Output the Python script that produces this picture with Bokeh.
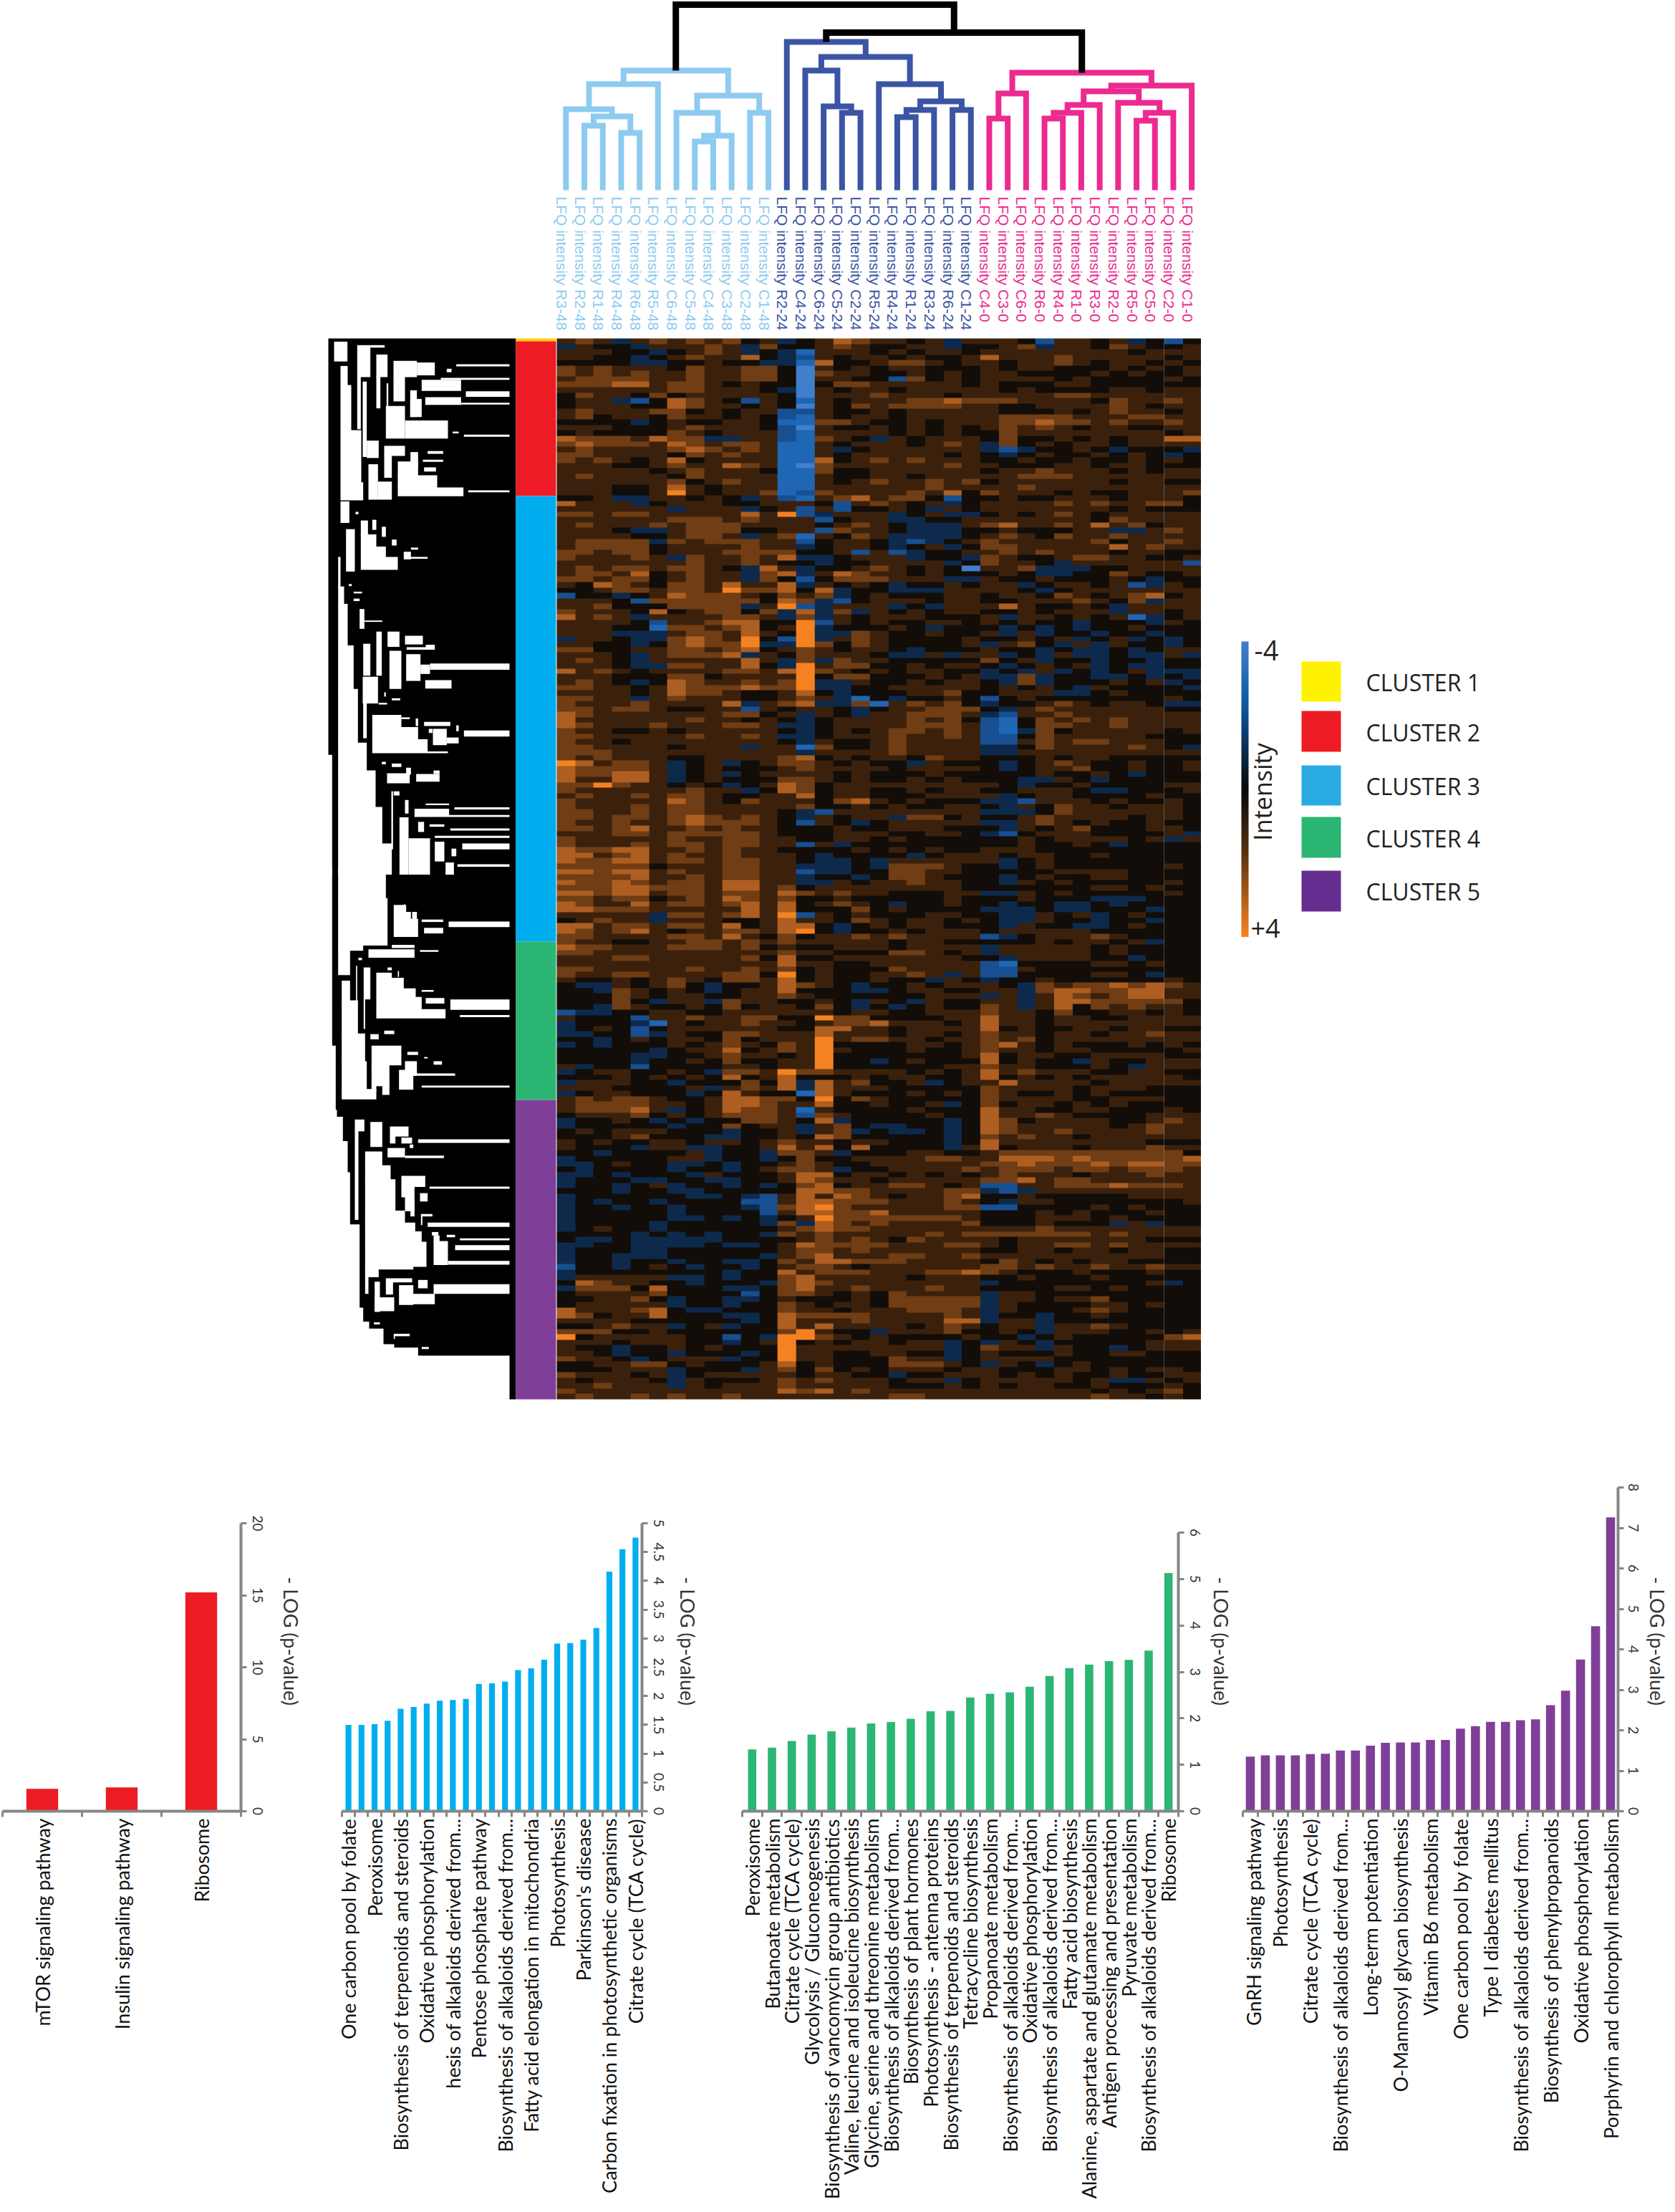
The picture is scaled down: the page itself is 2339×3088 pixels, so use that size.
import math
import numpy as np
from bokeh.embed import file_html
from bokeh.resources import INLINE
from bokeh.core.properties import value
from bokeh.layouts import column, row
from bokeh.models import Range1d, LinearAxis, FixedTicker, LinearColorMapper
from bokeh.plotting import figure

# ---------- samples and column dendrogram ----------
SAMPLES = ["R3-48","R2-48","R1-48","R4-48","R6-48","R5-48","C6-48","C5-48","C4-48","C3-48","C2-48","C1-48",
           "R2-24","C4-24","C6-24","C5-24","C2-24","R5-24","R4-24","R1-24","R3-24","R6-24","C1-24",
           "C4-0","C3-0","C6-0","R6-0","R4-0","R1-0","R3-0","R2-0","R5-0","C5-0","C2-0","C1-0"]
LIGHT, DARK, PINK, BLACK = "#8DCBF0", "#3B54A4", "#EC2A90", "#000000"
SAMPLE_COLORS = [LIGHT]*12 + [DARK]*11 + [PINK]*12
# merges: left child, right child, page height of the bracket, colour (ids above 34 are earlier merges)
MERGES = [(1,2,175,LIGHT),(3,4,185,LIGHT),(35,36,162,LIGHT),(0,37,152,LIGHT),(38,5,117,LIGHT),
          (7,8,197,LIGHT),(40,9,189,LIGHT),(6,41,157,LIGHT),(10,11,157,LIGHT),(42,43,133,LIGHT),(39,44,98,LIGHT),
          (15,16,157,DARK),(14,46,148,DARK),(13,47,98,DARK),(18,19,163,DARK),(49,20,153,DARK),(21,22,153,DARK),
          (50,51,141,DARK),(17,52,117,DARK),(48,53,79,DARK),(12,54,58,DARK),
          (23,24,165,PINK),(56,25,130,PINK),(26,27,165,PINK),(58,28,157,PINK),(59,29,146,PINK),(31,32,168,PINK),
          (61,33,157,PINK),(30,62,143,PINK),(60,63,127,PINK),(64,34,119,PINK),(57,65,101,PINK),
          (55,66,45,BLACK),(45,67,6,BLACK)]
LEAF_BASE = 265

# ---------- row dendrogram, white gaps (crop units) ----------
GAPS_UPPER = [(0,40,1225,1568),(48,104,35,90),(75,105,105,160),(75,120,160,290),(75,162,290,440),(75,170,440,490),(75,112,495,555),
 (145,200,45,135),(145,160,135,285),(200,260,45,50),(168,185,150,365),(225,272,72,135),(225,242,135,225),(268,275,155,220),(265,345,220,312),
 (345,525,262,312),(297,395,90,135),(297,345,135,205),(395,470,95,130),(367,395,175,250),(367,415,200,250),(415,580,145,175),(430,580,195,215),
 (600,783,178,192),(560,783,100,104),(495,783,139,143),(580,783,211,214),(440,510,270,274),(545,570,294,297),(592,783,303,307),(520,540,113,121),
 (185,235,320,368),(192,232,388,488),(232,290,438,488),(258,345,335,362),(258,290,362,425),(315,400,380,420),(315,480,420,455),(315,590,455,478),
 (368,400,353,395),(440,505,350,356),(420,505,375,379),(425,475,397,407),(610,783,463,467),
 (98,135,575,695),(160,190,550,590),(160,225,590,625),(160,265,625,655),(160,315,655,690),(208,225,548,575),(248,265,568,595),(290,310,605,620),
 (340,370,640,660),(345,440,655,658),(370,400,628,632),(138,150,525,530),(110,122,733,737),(130,165,755,758),(130,155,775,780),
 (65,75,655,740),(65,90,740,790),(65,105,790,910),(65,130,910,1035),(65,148,1035,1190),(65,185,1190,1270),(65,222,1270,1375),(65,250,1375,1480),(65,290,1480,1568),
 (155,175,805,860),(175,250,838,840),(225,248,870,995),(170,200,905,995),(168,232,1000,1075),(272,322,870,912),(280,330,925,1033),
 (345,420,882,905),(352,470,915,920),(350,410,935,1010),(410,450,965,990),(450,783,962,978),(432,470,908,914),(430,540,1010,1032),
 (258,265,1045,1055),(290,325,1062,1066),(235,270,1075,1078),(208,330,1110,1145),(208,400,1145,1180),(208,440,1180,1215),(208,525,1215,1218),
 (330,365,1117,1120),(390,400,1120,1140),(425,535,1130,1140),(462,520,1150,1195),(520,570,1175,1190),(592,783,1155,1170),(560,570,1140,1155),(445,460,1150,1160),
 (170,185,1035,1175),(248,265,1245,1250),(290,330,1250,1258),(350,370,1262,1280),(270,365,1278,1305),(392,490,1280,1300),(465,490,1270,1278),
 (288,295,1330,1495),(298,322,1330,1340),(345,360,1355,1392),(385,530,1380,1400),(432,530,1365,1368),(552,783,1376,1380),(385,783,1398,1402),
 (400,425,1418,1445),(448,510,1425,1430),(535,783,1437,1441),(470,783,1458,1462),(322,360,1405,1568),(360,450,1465,1568),(470,510,1475,1530),
 (515,550,1535,1568),(585,783,1480,1495),(540,560,1495,1515),(565,783,1540,1545)]
GAPS_LOWER = [(0,40,0,515),(0,55,515,700),(0,60,700,720),(0,85,720,790),(0,105,790,880),(0,115,880,1030),(0,155,1030,1270),(0,170,1270,1310),(0,195,1310,1330),
 (0,255,1330,1375),(0,300,1375,1385),(0,400,1385,1408),(0,783,1408,1568),
 (65,265,0,90),(65,272,90,225),(65,170,225,240),(65,115,240,310),(80,115,328,385),(80,148,385,480),(80,178,480,560),(80,185,560,640),(80,225,640,668),
 (298,350,110,130),(298,370,130,150),(298,400,150,200),(375,395,130,150),(415,505,152,157),(425,505,176,190),(528,783,158,172),(340,345,108,118),
 (290,385,225,232),(408,485,240,243),(192,385,238,260),(150,165,262,267),(140,145,285,470),(172,200,290,380),(172,178,380,465),(225,290,305,320),
 (225,340,320,350),(225,390,350,375),(225,415,375,410),(225,515,410,435),(272,290,290,296),(315,320,300,315),(415,465,355,358),(432,510,378,392),
 (535,783,382,410),(575,783,427,431),(205,330,515,570),(205,280,570,630),(205,225,630,645),(320,380,585,640),(345,395,560,600),(380,555,595,600),
 (250,280,625,655),(415,783,630,634),(355,400,533,540),(425,440,548,550),(465,500,560,568),(258,300,472,480),(200,235,482,495),
 (135,175,728,760),(135,150,760,1015),(200,250,735,805),(178,250,820,860),(178,285,860,900),(178,305,900,990),(178,345,990,1025),(178,388,1025,1050),
 (178,415,1050,1080),(178,435,1080,1150),(178,380,1150,1158),(178,235,1158,1180),(178,192,1180,1228),(282,360,748,775),(282,305,775,795),(272,345,810,835),
 (345,508,832,837),(330,375,780,795),(400,783,785,793),(365,380,800,808),(330,430,890,920),(330,385,920,950),(345,385,950,990),(448,783,921,925),
 (408,440,940,962),(368,385,960,1005),(412,460,1000,1005),(412,418,1005,1030),(440,783,1025,1035),(458,485,1052,1060),(520,555,1060,1065),
 (575,783,1070,1074),(555,783,1090,1102),(465,525,1078,1145),(525,783,1135,1144),(465,490,1062,1078),(218,240,1195,1280),(218,300,1240,1278),
 (265,375,1185,1195),(265,295,1195,1230),(320,380,1205,1260),(400,440,1190,1212),(465,783,1202,1228),(325,470,1230,1258),(215,240,1312,1316),
 (298,365,1345,1350),(298,303,1350,1358),(415,445,1383,1387)]

# ---------- heat map: one digit per cell, 0 = -4 (blue) ... 4 = 0 (black) ... 8 = +4 (orange) ----------
HEAT = """
565356565645 345765545355 554255453424
354435556536 445654455345 456355465445
555443456534 315554545545 555555554555
554434565574 325455454453 755565555545
444433445443 317445665454 545565455454
656555465566 405454554444 545544454545
656565565566 406554454544 554444545445
566665565566 405544264544 555545444454
666775665454 404665555544 544455444444
555555665554 305455455554 545444455455
465546455555 405556555455 555566555555
455324765425 415455566765 665555465565
455544765545 405465666654 544555565455
565556645455 225445455555 544454565545
564554655454 215455455556 566665556655
444434544554 116654454555 566766565565
555444565554 205445454544 565654554455
454444654555 215555454544 465555555545
766657663355 216543545554 464454545577
676665765665 115455545655 364545545555
565555676565 115345555555 323445434443
665555465655 115455555455 434544545434
656545745555 117456565554 445445445454
555445655765 106555555654 544455455444
555554565554 116445555555 455655545455
565555465555 115445545556 556665555555
555555645655 115456556565 455555545544
555445754555 115555556555 556555555555
555445854556 126555565745 655545445556
445335545435 215675664245 454455545554
755534555445 554256545345 555565655664
555555355534 525244543545 555555545444
665665555575 823555345333 454565455555
555555666565 552455334452 555555465555
565556566655 554565433354 675565756455
555433566644 552655433344 454445533565
555544566535 615465333345 565465565555
566663656665 524554323453 655555645565
566664555565 534554345343 665555575655
665664555666 644525234453 565655545544
655565365565 733455534434 654456655445
555555565565 443445555343 655435555552
565665665437 534456545403 556333445555
566574565536 735765545443 454334465445
665664565536 424666555335 544544454344
547654665755 735454344545 553455452354
445665665866 747344333553 554345555555
244345766654 656345444555 455465456745
555426666664 763245554555 445556546355
556444666635 823555343555 575445435555
655547456646 373635454553 445455535545
756535555665 363545554445 535545451345
555542556774 482545445544 545443444354
555441665674 583444543445 434343445444
555333566575 483365445444 535344344344
355433676584 283565444454 445453453434
554434676683 386465444454 356435354434
664455665674 565455434444 544343343455
555435666735 465554335355 534353343353
565435555575 363655444445 645344344344
555433665574 385664454555 434545343344
756545555665 786545455445 343534345333
555444664555 584664445455 336344334343
565434765565 683354454555 436344454534
665545766676 683344555554 454543544443
555545766544 574344455645 455533454444
665535655544 565314344545 245444444454
655565555735 673361565645 344565455433
665665445525 455434556665 435655555544
765555555664 535435566655 325565555555
755555565545 434555565645 214656565555
765556555665 334555566654 214665565555
655445455555 434545665654 213645555545
665555565565 334555655654 224655555444
655455555555 435445655554 225656655544
665555455535 516445655554 334655556543
666555555555 535555655555 335555555555
656555445555 674545546554 444545544444
875665345345 665454435445 434565445445
766665345444 565555455555 434556445445
766775345345 555454445445 444544543444
755775345444 665454454544 443354344444
668655454345 764555555554 543445444455
655555565534 764554454555 445554334445
565565665445 574554445554 534554444544
655555765465 554675454445 332555454454
655565665555 564454544555 435465545554
665565665555 432555555555 333465555554
665665676565 435455366454 445655554554
655655676665 425434555554 335654544544
665675565655 444544555444 435456444554
555665666665 444555445544 324555444453
655555655665 544554544444 445455554535
655565665665 525344444445 445445434444
766775565655 444454545445 555444444444
775675655655 543444434555 545544544444
766775665665 543343555554 534544444444
666664555665 533343666544 434544444454
776775655665 523344665544 444455554444
666675565665 534434665444 434544554444
766765665775 533545565544 435454444454
666776665775 645555555544 444444554544
776775665665 765655444555 335454444454
665664565765 644544444544 445444333444
765575665675 745654344544 434433434444
776665555575 744464544444 333433444344
555553665675 825454445545 433545345444
456553555445 755465455455 433544344344
775665665745 774345455445 435443345444
765675455665 784344545555 455555444444
665555665754 645565655554 234555654444
655445566565 655555455445 444545545344
766555666564 544555455554 355555454444
665555555555 655444665455 355555454444
555665555564 744555555544 435555443444
555555555555 755445555555 214444554544
665555565565 645444655555 225444444444
655665555664 845445565355 224444554344
544545654665 745445443545 344544444454
433545643445 765434454555 543656676765
443654543455 744433455445 553677667755
444654554455 654444445555 353576567755
444643553655 445435435445 553577666664
443654454645 546434345445 653574656554
233445544555 555455445555 655464455454
544425565566 448664444555 755455445555
344431545565 545667555455 755455555555
345424555555 447755455554 745445545544
334423544665 557555455455 655455455655
443454554645 558566554554 656455555555
343444545654 658444455454 675454445454
444443455745 658544454455 655455444445
444433445655 458444444454 745544555544
444434454644 558443454444 745443544555
534424444554 558444444555 655444543555
345544543665 866555545454 756555445544
444545454745 744454554455 745454555554
355544344464 737564453455 575555455555
555444453565 737555444445 655554555444
345544434754 417544454544 654454544444
565665445776 648465444444 655554455544
566665545776 557445445344 645545454444
566675345766 515444454444 755445544454
455564545666 526544445444 755654444555
344543434466 547344444344 764555544565
344444344645 535643344344 765555545655
454555444344 535634334344 765565555655
444564443344 547644444344 656554555555
545445545545 655455444344 755555555444
544435533445 757474444354 745554555655
443444453443 665344455444 566666666664
344444553443 464455556655 577767666667
334544334344 565445555555 667666767766
434444344345 665344555565 566656656665
334344435444 577455454544 565554555655
344433443344 576554555554 667566555555
344345344343 467455665454 225566676665
444344334444 477665555665 323555555555
344444433432 575765455677 445444445555
343443444422 577666555655 435544444445
344344344432 678655555666 224444545444
344444344442 577667555555 444545444544
344444334343 458666666655 444555454444
344443444443 637656555566 444544435344
345443444444 567665555555 555655555555
444434343443 656555556566 666666565555
433433333444 456565465555 545555555444
334433334334 576666555665 545566565555
344433444444 566565555556 445545545544
344333444443 567555665566 555555555544
344344344334 657766655556 465454554444
244345434434 566545555555 665655655655
344444444344 756665556675 654445444544
355555334344 675555545555 445444544444
476554434443 676555555555 344444444534
366647444334 675565556555 444455454444
455556444424 665454655556 355444444444
445564344334 544454666666 355455644444
455555344344 654554666666 354444554544
755567433444 655455566656 354445654444
764557444334 766665555656 344344544444
555544444434 755565555775 355344444444
445655345344 757555545655 455355654444
666445444444 685443555644 454355544545
845555544243 886545444454 443454444467
555455544345 845455455344 354344444555
544344545444 855555555344 655354434555
554344344434 855445544344 544454455444
655434555344 855444655344 555544444444
445566454445 745444666544 354345444444
444555344435 646454555454 544455454554
655545345555 545544344555 545454454455
545554354445 656555455345 555554533545
556555354555 655555444544 545544544454
655555555555 767565555555 555555454564
565565655655 555555665555 555555655454
""".strip().split("\n")
# groups: 12 columns of the 48 h samples, 11 of the 24 h samples plus a spare digit, 12 of the 0 h samples
HEAT = [r.split()[0] + r.split()[1][:11] + r.split()[2] for r in HEAT]
MATRIX = np.array([[int(c) - 4 for c in r] for r in HEAT], dtype=float)
HEAT_PALETTE = ["#3F7FCB", "#1F66B4", "#184F90", "#0D2A4D", "#120D08", "#3B210C", "#703D14", "#AE5E20", "#F58220"]

# ---------- legend ----------
CLUSTER_NAMES = ["CLUSTER 1", "CLUSTER 2", "CLUSTER 3", "CLUSTER 4", "CLUSTER 5"]
CLUSTER_COLORS = ["#FFF200", "#ED1C24", "#29ABE2", "#2CB673", "#662D91"]
BAND_COLORS = ["#FFD200", "#ED1C24", "#00AEEF", "#2CB673", "#7F3F98"]
BAND_EDGES = [472, 476, 692, 1314, 1535, 1953]
SQUARE_TOPS = [923, 992, 1068, 1140, 1215]
SQUARE_BOTTOMS = [979, 1049, 1124, 1197, 1272]
TEXT_CENTRES = [952, 1022, 1097, 1170, 1244]
BAR_STOPS = [(0.0, "#3F7FCB"), (0.2, "#0F5AA8"), (0.5, "#080808"), (0.72, "#5A3210"), (1.0, "#F58220")]

# ---------- bar charts ----------
L1 = ["mTOR signaling pathway", "Insulin signaling pathway", "Ribosome"]
V1 = [1.55, 1.65, 15.2]
L2 = {0:"One carbon pool by folate",2:"Peroxisome",4:"Biosynthesis of terpenoids and steroids",6:"Oxidative phosphorylation",
      8:"hesis of alkaloids derived from...",10:"Pentose phosphate pathway",12:"Biosynthesis of alkaloids derived from...",
      14:"Fatty acid elongation in mitochondria",16:"Photosynthesis",18:"Parkinson's disease",
      20:"Carbon fixation in photosynthetic organisms",22:"Citrate cycle (TCA cycle)"}
V2 = [1.5,1.5,1.51,1.57,1.78,1.81,1.87,1.92,1.93,1.95,2.21,2.22,2.25,2.45,2.48,2.63,2.91,2.92,2.98,3.18,4.16,4.55,4.75]
L3 = ["Peroxisome","Butanoate metabolism","Citrate cycle (TCA cycle)","Glycolysis / Gluconeogenesis",
      "Biosynthesis of vancomycin group antibiotics","Valine, leucine and isoleucine biosynthesis",
      "Glycine, serine and threonine metabolism","Biosynthesis of alkaloids derived from...","Biosynthesis of plant hormones",
      "Photosynthesis - antenna proteins","Biosynthesis of terpenoids and steroids","Tetracycline biosynthesis","Propanoate metabolism",
      "Biosynthesis of alkaloids derived from...","Oxidative phosphorylation","Biosynthesis of alkaloids derived from...",
      "Fatty acid biosynthesis","Alanine, aspartate and glutamate metabolism","Antigen processing and presentation",
      "Pyruvate metabolism","Biosynthesis of alkaloids derived from...","Ribosome"]
V3 = [1.33,1.37,1.51,1.65,1.72,1.80,1.89,1.92,1.99,2.15,2.16,2.45,2.53,2.56,2.68,2.91,3.08,3.16,3.23,3.26,3.46,5.13]
L4 = {0:"GnRH signaling pathway",2:"Photosynthesis",4:"Citrate cycle (TCA cycle)",6:"Biosynthesis of alkaloids derived from...",
      8:"Long-term potentiation",10:"O-Mannosyl glycan biosynthesis",12:"Vitamin B6 metabolism",14:"One carbon pool by folate",
      16:"Type I diabetes mellitus",18:"Biosynthesis of alkaloids derived from...",20:"Biosynthesis of phenylpropanoids",
      22:"Oxidative phosphorylation",24:"Porphyrin and chlorophyll metabolism"}
V4 = [1.35,1.38,1.38,1.38,1.41,1.42,1.5,1.5,1.62,1.69,1.7,1.7,1.76,1.76,2.04,2.1,2.21,2.21,2.25,2.27,2.62,2.98,3.75,4.57,7.26]
AXIS_TITLE = "-  LOG (p-value)"

# ---------- page geometry ----------
PAGE_W, TOP_END, PAGE_END = 2339, 2050, 3088
COL_W = 25.7
HEAT_L = 777
HEAT_T, HEAT_B = BAND_EDGES[0], BAND_EDGES[-1]
rows_n = len(HEAT)
row_h = (HEAT_B - HEAT_T) / rows_n

top = figure(width=PAGE_W, height=TOP_END, x_range=Range1d(0, PAGE_W), y_range=Range1d(TOP_END, 0),
             x_axis_location=None, y_axis_location=None, toolbar_location=None, output_backend="svg",
             min_border=0, outline_line_color=None, background_fill_color="white", border_fill_color="white")
top.grid.visible = False
top.extra_x_ranges["col"] = Range1d(-HEAT_L / COL_W, (PAGE_W - HEAT_L) / COL_W)
top.extra_y_ranges["row"] = Range1d((TOP_END - HEAT_T) / row_h, -HEAT_T / row_h)

# column dendrogram
pos = {i: i + 0.5 for i in range(len(SAMPLES))}
hgt = {i: LEAF_BASE for i in range(len(SAMPLES))}
xs, ys, cols, wid = [], [], [], []
for k, (a, b, h, c) in enumerate(MERGES):
    xs.append([pos[a], pos[a], pos[b], pos[b]])
    ys.append([hgt[a], h, h, hgt[b]])
    cols.append(c)
    wid.append(9 if c == BLACK else 8)
    nid = len(SAMPLES) + k
    pos[nid] = (pos[a] + pos[b]) / 2
    hgt[nid] = h
top.multi_line(xs, ys, line_color=cols, line_width=wid, x_range_name="col", line_join="miter", line_cap="butt")

# sample labels
top.text(x=[i + 0.5 for i in range(len(SAMPLES))], y=[274] * len(SAMPLES),
         text=["LFQ intensity " + s for s in SAMPLES], text_color=SAMPLE_COLORS, angle=-math.pi / 2,
         x_offset=-6, text_align="left", text_baseline="middle", text_font=value("Liberation Sans"),
         text_font_size="21px", x_range_name="col")

# row dendrogram
top.quad(left=[458], right=[720], top=[HEAT_T], bottom=[HEAT_B], fill_color="black", line_color=None)
gx0 = [450 + g[0] / 3 for g in GAPS_UPPER] + [450 + g[0] / 3 for g in GAPS_LOWER]
gx1 = [450 + g[1] / 3 for g in GAPS_UPPER] + [450 + g[1] / 3 for g in GAPS_LOWER]
gy0 = [460 + g[2] / 2.063 - 0.5 for g in GAPS_UPPER] + [1210 + g[2] / 2.063 - 0.5 for g in GAPS_LOWER]
gy1 = [460 + g[3] / 2.063 + 0.5 for g in GAPS_UPPER] + [1210 + g[3] / 2.063 + 0.5 for g in GAPS_LOWER]
top.quad(left=gx0, right=gx1, top=gy0, bottom=gy1, fill_color="white", line_color=None)

# cluster band
top.quad(left=720, right=776, top=BAND_EDGES[:-1], bottom=BAND_EDGES[1:], fill_color=BAND_COLORS, line_color=None)

# heat map
mapper = LinearColorMapper(palette=HEAT_PALETTE, low=-4.5, high=4.5)
top.image(image=[MATRIX], x=0, y=0, dw=len(SAMPLES), dh=rows_n, color_mapper=mapper,
          x_range_name="col", y_range_name="row")
top.segment(x0=[33], x1=[33], y0=[0], y1=[rows_n], line_color="#bbbbbb", line_alpha=0.35, line_width=1,
            x_range_name="col", y_range_name="row")

# colour bar
def lerp(t):
    for (t0, c0), (t1, c1) in zip(BAR_STOPS, BAR_STOPS[1:]):
        if t <= t1:
            f = (t - t0) / (t1 - t0)
            a = [int(c0[i:i + 2], 16) for i in (1, 3, 5)]
            b = [int(c1[i:i + 2], 16) for i in (1, 3, 5)]
            return "#%02x%02x%02x" % tuple(round(u + (v - u) * f) for u, v in zip(a, b))
    return BAR_STOPS[-1][1]
bar_top, bar_bottom, steps = 895, 1307, 103
step = (bar_bottom - bar_top) / steps
top.quad(left=1733, right=1743, top=[bar_top + i * step for i in range(steps)],
         bottom=[bar_top + (i + 1) * step + 0.5 for i in range(steps)],
         fill_color=[lerp(i / (steps - 1)) for i in range(steps)], line_color=None)
FONT = value("Open Sans")
top.text(x=[1751], y=[907], text=["-4"], text_font=FONT, text_font_size="38px", text_color="#231F20", text_baseline="middle")
top.text(x=[1746], y=[1295], text=["+4"], text_font=FONT, text_font_size="36px", text_color="#231F20", text_baseline="middle")
top.text(x=[1762], y=[1105], text=["Intensity"], angle=math.pi / 2, text_font=FONT, text_font_size="34px",
         text_color="#231F20", text_align="center", text_baseline="middle")

# legend
top.quad(left=1817, right=1872, top=SQUARE_TOPS, bottom=SQUARE_BOTTOMS, fill_color=CLUSTER_COLORS, line_color=None)
top.text(x=[1907] * 5, y=TEXT_CENTRES, text=CLUSTER_NAMES, text_font=FONT, text_font_size="32px", text_color="#231F20",
         text_baseline="middle")

# bar charts
GREY = "#868686"
LABEL_FONT = "Lato"
FRAME_TOP, ZERO_Y = 2060, 2528
def bar_chart(vals, labels, color, bar_w, vmax, vstep, left_page, frame_l, frame_r, fig_r, y_top, tick_gap=8, title_gap=10, label_size="27px", stand=2):
    n = len(vals)
    y_end = vmax * (ZERO_Y - FRAME_TOP) / (ZERO_Y - y_top)
    f = figure(width=fig_r - left_page, height=PAGE_END - TOP_END, x_range=Range1d(-0.5, n - 0.5), y_range=Range1d(0, y_end),
               x_axis_location=None, y_axis_location=None, toolbar_location=None, output_backend="svg",
               min_border_left=frame_l - left_page, min_border_right=fig_r - frame_r,
               min_border_top=FRAME_TOP - TOP_END, min_border_bottom=PAGE_END - ZERO_Y,
               outline_line_color=None, background_fill_color="white", border_fill_color="white")
    f.grid.visible = False
    f.vbar(x=list(range(n)), top=vals, width=bar_w, fill_color=color, line_color=None)
    if isinstance(labels, dict):
        overrides = dict(labels)
    else:
        overrides = dict(enumerate(labels))
    bounds = [i - 0.5 for i in range(n + 1)]
    xa = LinearAxis(ticker=FixedTicker(ticks=list(overrides.keys()), minor_ticks=bounds),
                    major_label_overrides=overrides, major_label_orientation=math.pi / 2,
                    major_label_text_font=LABEL_FONT, major_label_text_font_size=label_size,
                    major_label_text_color="#111111", major_label_standoff=stand,
                    axis_line_color=GREY, axis_line_width=4, major_tick_line_color=None,
                    major_tick_in=0, major_tick_out=0, minor_tick_line_color=GREY, minor_tick_line_width=3,
                    minor_tick_in=0, minor_tick_out=8)
    f.add_layout(xa, "below")
    ticks = [round(i * vstep, 3) for i in range(int(round(vmax / vstep)) + 1)]
    ya = LinearAxis(ticker=FixedTicker(ticks=ticks), bounds=(0, vmax), major_label_orientation="parallel",
                    major_label_text_font=LABEL_FONT, major_label_text_font_size="19px", major_label_text_color="#333333",
                    major_label_standoff=tick_gap, axis_line_color=GREY, axis_line_width=4,
                    major_tick_line_color=GREY, major_tick_line_width=3, major_tick_in=0, major_tick_out=8,
                    minor_tick_line_color=None, axis_label=AXIS_TITLE, axis_label_text_font=LABEL_FONT,
                    axis_label_text_font_style="normal", axis_label_text_font_size="27px",
                    axis_label_text_color="#333333", axis_label_standoff=title_gap)
    f.add_layout(ya, "right")
    return f

c1 = bar_chart(V1, L1, "#ED1C24", 0.4, 20, 5, 0, 3, 336, 440, 2126, title_gap=20)
c2 = bar_chart(V2, L2, "#00AEEF", 0.45, 5, 0.5, 440, 477, 896, 1000, 2126, title_gap=14)
c3 = bar_chart(V3, L3, "#2CB673", 0.42, 6, 1, 1000, 1036, 1645, 1733, 2139, title_gap=10)
c4 = bar_chart(V4, L4, "#7F3F98", 0.6, 8, 1, 1733, 1735, 2259, 2339, 2076, tick_gap=6, title_gap=7)

page = column(top, row(c1, c2, c3, c4, spacing=0), spacing=0)
open("out.html", "w").write(file_html(page, INLINE))
